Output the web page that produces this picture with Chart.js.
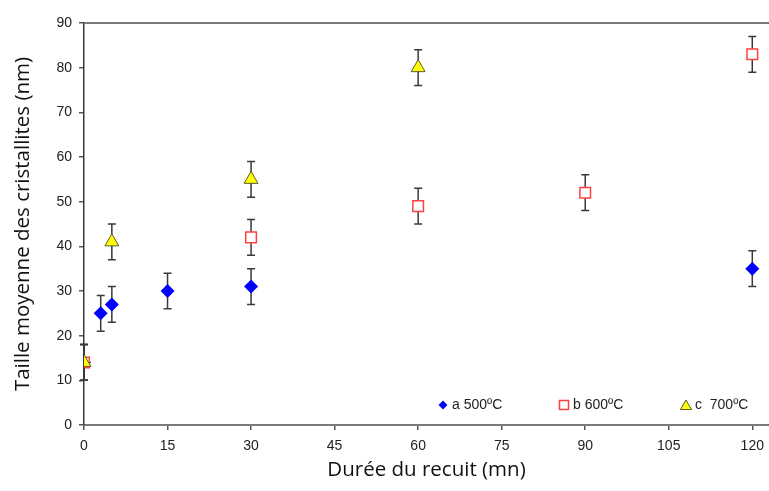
<!DOCTYPE html>
<html>
<head>
<meta charset="utf-8">
<script src="https://cdn.jsdelivr.net/npm/chart.js@4.4.1/dist/chart.umd.min.js"></script>
<style>
  html, body { margin: 0; padding: 0; background: #fff; overflow: hidden; }
  canvas { display: block; }
</style>
</head>
<body>
<canvas id="c" width="769" height="491" role="img" aria-label="Taille moyenne des cristallites en fonction de la durée du recuit"></canvas>
<script>
// annealing time (mn) and mean crystallite size (nm), error bars +/- err
const timeA = [0, 3, 5, 15, 30, 120]
const sizeA = [14, 25, 27, 30, 31, 35]
const errA = [4, 4, 4, 4, 4, 4]

const timeB = [0, 30, 60, 90, 120]
const sizeB = [14, 42, 49, 52, 83]
const errB = [4, 4, 4, 4, 4]

const timeC = [0, 5, 30, 60]
const sizeC = [14, 41, 55, 80]
const errC = [4, 4, 4, 4]

const labels = ['a 500ºC', 'b 600ºC', 'c  700ºC']
const xTicks = [0, 15, 30, 45, 60, 75, 90, 105, 120]

const pts = (xs, ys, es) => xs.map((x, i) => ({ x, y: ys[i], err: es[i] }))

// error bars drawn before the markers
const errorBars = {
  id: 'errorBars',
  beforeDatasetsDraw(chart) {
    const { ctx, scales: { x, y } } = chart
    ctx.save()
    ctx.strokeStyle = '#3a3a3a'
    ctx.lineWidth = 1.5
    chart.data.datasets.forEach(ds => {
      ds.data.forEach(p => {
        const px = x.getPixelForValue(p.x)
        const lo = y.getPixelForValue(p.y - p.err)
        const hi = y.getPixelForValue(p.y + p.err)
        ctx.beginPath()
        ctx.moveTo(px, lo); ctx.lineTo(px, hi)
        ctx.moveTo(px - 4, lo); ctx.lineTo(px + 4, lo)
        ctx.moveTo(px - 4, hi); ctx.lineTo(px + 4, hi)
        ctx.stroke()
      })
    })
    ctx.restore()
  }
}

// top frame line + legend inside the plot area
const frameAndLegend = {
  id: 'frameAndLegend',
  afterDraw(chart) {
    const { ctx, chartArea: a } = chart
    ctx.save()
    ctx.strokeStyle = '#7a7a7a'
    ctx.lineWidth = 2
    ctx.beginPath()
    ctx.moveTo(a.left, a.top); ctx.lineTo(chart.width, a.top)
    ctx.stroke()

    const xs = [443, 564, 686]
    const yl = 405
    ctx.font = '14px "Liberation Sans", Arial, sans-serif'
    ctx.textBaseline = 'middle'
    chart.data.datasets.forEach((ds, i) => {
      const cx = xs[i]
      ctx.fillStyle = ds.backgroundColor
      ctx.strokeStyle = ds.borderColor
      ctx.lineWidth = 1.5
      ctx.beginPath()
      if (ds.pointStyle === 'rectRot') {
        ctx.moveTo(cx, yl - 4.5); ctx.lineTo(cx + 4.5, yl); ctx.lineTo(cx, yl + 4.5); ctx.lineTo(cx - 4.5, yl); ctx.closePath()
        ctx.fill()
      } else if (ds.pointStyle === 'rect') {
        ctx.rect(cx - 4.5, yl - 4.5, 9, 9)
        ctx.fill(); ctx.stroke()
      } else {
        ctx.lineWidth = 1
        ctx.moveTo(cx, yl - 5); ctx.lineTo(cx + 5.5, yl + 4.5); ctx.lineTo(cx - 5.5, yl + 4.5); ctx.closePath()
        ctx.fill(); ctx.stroke()
      }
      ctx.fillStyle = '#222'
      ctx.fillText(ds.label, cx + 9, yl + 0.5)
    })
    ctx.restore()
  }
}

const tickFont = { family: '"Liberation Sans", Arial, sans-serif', size: 14 }
const titleFont = { family: '"Open Sans", sans-serif', size: 20.5 }

new Chart(document.getElementById('c'), {
  type: 'scatter',
  data: {
    datasets: [
      {
        label: labels[0], data: pts(timeA, sizeA, errA), order: 3,
        pointStyle: 'rectRot', pointRadius: 7, pointHoverRadius: 7,
        backgroundColor: '#0000ff', borderColor: '#0000ff', borderWidth: 0
      },
      {
        label: labels[1], data: pts(timeB, sizeB, errB), order: 2,
        pointStyle: 'rect', pointRadius: 7.5, pointHoverRadius: 7.5,
        backgroundColor: '#ffffff', borderColor: '#ff4040', borderWidth: 1.5
      },
      {
        label: labels[2], data: pts(timeC, sizeC, errC), order: 1,
        pointStyle: 'triangle', pointRadius: 8, pointHoverRadius: 8,
        backgroundColor: '#ffff00', borderColor: '#5a5a2a', borderWidth: 1
      }
    ]
  },
  options: {
    responsive: false,
    animation: false,
    layout: { autoPadding: false, padding: { top: 23, right: 0, left: 7, bottom: 5 } },
    plugins: { legend: { display: false }, tooltip: { enabled: false } },
    scales: {
      x: {
        type: 'linear', min: 0, max: 123,
        afterBuildTicks: s => { s.ticks = xTicks.map(v => ({ value: v })) },
        afterFit: s => { s.height = 61; s.paddingLeft = 0; s.paddingRight = 0 },
        grid: { drawOnChartArea: false, tickLength: 5, color: '#555', lineWidth: 1.5 },
        border: { color: '#7a7a7a', width: 2 },
        ticks: { font: tickFont, color: '#222', padding: 8, maxRotation: 0 },
        title: { display: true, text: 'Durée du recuit (mn)', font: titleFont, color: '#111', padding: { top: 6 } }
      },
      y: {
        min: 0, max: 90,
        ticks: { stepSize: 10, font: tickFont, color: '#222', padding: 7 },
        afterFit: s => { s.width = 77; s.paddingTop = 0; s.paddingBottom = 0 },
        grid: { drawOnChartArea: false, tickLength: 5, color: '#555', lineWidth: 1.5 },
        border: { color: '#3a3a3a', width: 1.5 },
        title: { display: true, text: 'Taille moyenne des cristallites (nm)', font: titleFont, color: '#111', padding: { bottom: 4 } }
      }
    }
  },
  plugins: [errorBars, frameAndLegend]
})
</script>
</body>
</html>
